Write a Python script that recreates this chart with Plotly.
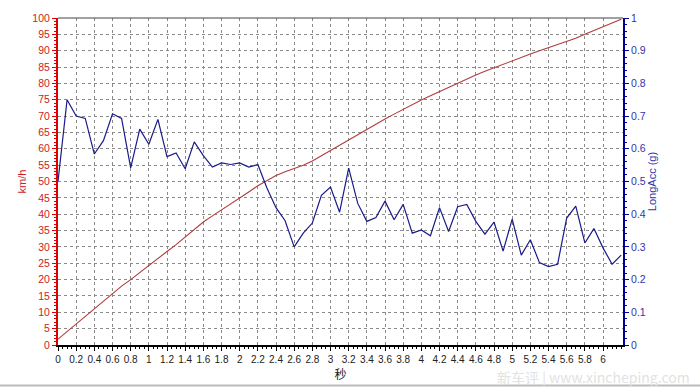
import plotly.graph_objects as go

# time stamps (s), sampled every 0.1 s
time_s = [round(i * 0.1, 1) for i in range(63)]

speed_kmh = [1.8, 4.1, 6.4, 8.7, 11.0, 13.3, 15.7, 18.0, 20.0, 22.2,
             24.4, 26.6, 28.6, 30.7, 33.0, 35.2, 37.6, 39.5, 41.3, 43.1,
             44.8, 46.8, 48.7, 50.3, 51.8, 53.0, 54.0, 55.0, 56.3, 57.9,
             59.6, 61.2, 62.9, 64.5, 66.1, 67.6, 69.1, 70.6, 72.1, 73.5,
             74.9, 76.2, 77.5, 78.8, 80.1, 81.4, 82.6, 83.7, 84.8, 85.9,
             87.0, 88.0, 89.0, 90.0, 90.9, 91.8, 92.7, 93.8, 95.0, 96.2,
             97.4, 98.5, 99.6]

long_acc_g = [0.50, 0.75, 0.70, 0.693, 0.584, 0.625, 0.707, 0.693, 0.542, 0.66,
              0.614, 0.69, 0.576, 0.587, 0.539, 0.621, 0.579, 0.544, 0.557, 0.552,
              0.557, 0.544, 0.552, 0.48, 0.42, 0.38, 0.30, 0.342, 0.373, 0.458,
              0.483, 0.406, 0.541, 0.433, 0.378, 0.39, 0.44, 0.383, 0.43, 0.342,
              0.352, 0.334, 0.42, 0.347, 0.423, 0.43, 0.378, 0.339, 0.376, 0.287,
              0.385, 0.275, 0.322, 0.252, 0.24, 0.247, 0.388, 0.425, 0.312, 0.356,
              0.297, 0.247, 0.275]

x_tickvals = [round(i * 0.2, 1) for i in range(31)]
x_ticktext = ["%g" % v for v in x_tickvals]
y_tickvals = list(range(0, 101, 5))
y2_tickvals = [round(i * 0.1, 1) for i in range(11)]
y2_ticktext = ["%g" % v for v in y2_tickvals]

RED = "#cc2222"
BLUE = "#1a1a8a"
FONT = "Liberation Sans, Arial, sans-serif"

fig = go.Figure()
fig.add_trace(go.Scatter(x=time_s, y=speed_kmh, mode="lines",
                         line=dict(color="#b23a3a", width=1.1),
                         name="km/h", yaxis="y", hoverinfo="skip"))
fig.add_trace(go.Scatter(x=time_s, y=long_acc_g, mode="lines",
                         line=dict(color=BLUE, width=1.2),
                         name="LongAcc (g)", yaxis="y2", hoverinfo="skip"))

fig.update_layout(
    width=700, height=388,
    margin=dict(l=58, r=77, t=14, b=43),
    paper_bgcolor="white", plot_bgcolor="white",
    showlegend=False,
    font=dict(family=FONT, size=10, color="#222222"),
    xaxis=dict(
        range=[0, 6.22], tickmode="array", tickvals=x_tickvals, ticktext=x_ticktext,
        showgrid=True, gridcolor="#8a8a8a", griddash="3px,3px", gridwidth=1,
        zeroline=False, showline=True, linecolor="black", linewidth=2,
        ticks="outside", ticklen=4, tickcolor="black",
        minor=dict(dtick=0.05, ticks="outside", ticklen=2, tickcolor="black", showgrid=False),
        tickfont=dict(family=FONT, size=10, color="#222222"),
        title=dict(text="秒", font=dict(family="Noto Sans CJK SC", size=12, color="#222222"), standoff=2),
    ),
    yaxis=dict(
        range=[0, 100], tickmode="array", tickvals=y_tickvals,
        showgrid=True, gridcolor="#8a8a8a", griddash="3px,3px", gridwidth=1,
        zeroline=False, showline=True, linecolor="#dd0000", linewidth=2,
        ticks="outside", ticklen=4, tickcolor="#dd0000",
        minor=dict(dtick=1, ticks="outside", ticklen=2, tickcolor="#dd0000", showgrid=False),
        tickfont=dict(family=FONT, size=10.5, color=RED),
        title=dict(text="km/h", font=dict(family=FONT, size=11, color=RED), standoff=4),
    ),
    yaxis2=dict(
        range=[0, 1], overlaying="y", side="right", anchor="x",
        tickmode="array", tickvals=y2_tickvals, ticktext=y2_ticktext,
        showgrid=False, zeroline=False, showline=True, linecolor="#000099", linewidth=2,
        ticks="outside", ticklen=4, tickcolor="#000099",
        minor=dict(dtick=0.02, ticks="outside", ticklen=2, tickcolor="#000099", showgrid=False),
        tickfont=dict(family=FONT, size=10.5, color="#3333aa"),
        title=dict(text="LongAcc (g)", font=dict(family=FONT, size=11, color="#3333aa"), standoff=3),
    ),
)

# top frame line of plot area
fig.add_shape(type="line", xref="paper", yref="paper", x0=0, x1=1, y0=1, y1=1,
              line=dict(color="#444444", width=1))
# outer light frame at the bottom of the image
fig.add_shape(type="line", xref="paper", yref="paper",
              x0=-58 / 565, x1=642 / 565, y0=-41 / 331, y1=-41 / 331,
              line=dict(color="#bbbbbb", width=2))

fig.add_annotation(text="新车评 | www.xincheping.com", xref="paper", yref="paper",
                   x=(692 - 58) / 565, y=-(377 - 345) / 331, xanchor="right", yanchor="middle",
                   showarrow=False,
                   font=dict(family="Noto Sans CJK SC, Liberation Serif", size=14, color="#e2e2e2"))

fig.write_html("out.html")
